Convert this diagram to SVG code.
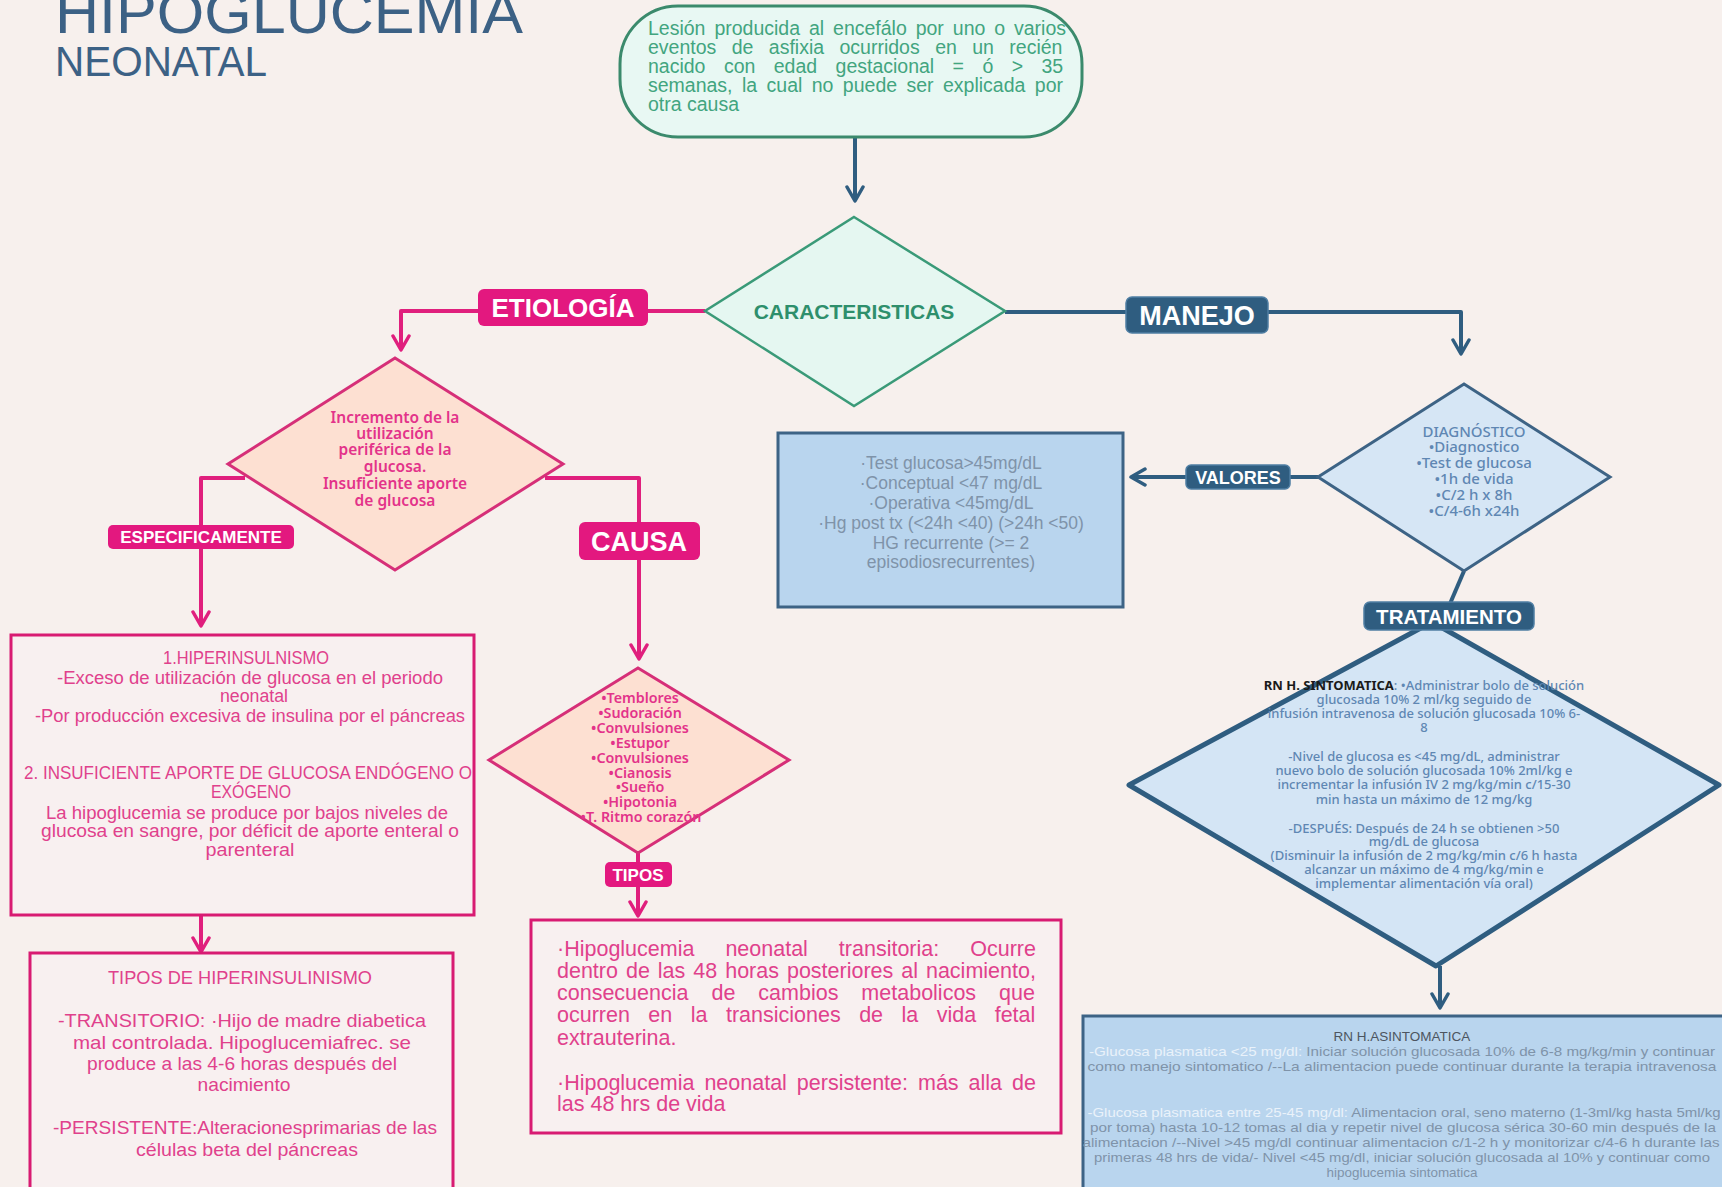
<svg xmlns="http://www.w3.org/2000/svg" width="1722" height="1187" viewBox="0 0 1722 1187">
  <defs>
    <style>
      .title { font-family: "Liberation Sans", Arial, sans-serif; fill: #3c6185; }
      .lbl { font-family: "Liberation Sans", Arial, sans-serif; font-weight: bold; fill: #ffffff; text-anchor: middle; }
      .lblP { fill: #e3187f; }
      .lblB { fill: #2f5d80; stroke: #4f7ea3; stroke-width: 1.5; }
      .lnP { fill: none; stroke: #e01f7d; stroke-width: 4; stroke-linejoin: round; }
      .lnB { fill: none; stroke: #2f5d80; stroke-width: 4; stroke-linejoin: round; }
      .boxP { fill: #f8f0f0; stroke: #d81b72; stroke-width: 3; }
      .txtP { font-family: "Liberation Sans", Arial, sans-serif; fill: #e0418c; }
      .dmP { fill: #fde0d2; stroke: #d62f78; stroke-width: 3; }
      .dmtxtP { font-family: "Noto Sans", "Open Sans", sans-serif; font-weight: 600; fill: #e3338a; text-anchor: middle; }
      .dmB { fill: #d6e6f5; stroke: #3d6385; stroke-width: 3; }
      .dmtxtB { font-family: "Noto Sans", "Open Sans", sans-serif; font-weight: 500; fill: #5f87b3; text-anchor: middle; }
      .boxB { fill: #b9d5ee; stroke: #3d6385; stroke-width: 3; }
      .txtB { font-family: "Liberation Sans", Arial, sans-serif; fill: #7f93a9; text-anchor: middle; }
      .mid { text-anchor: middle; }
    </style>
    <marker id="chevB" viewBox="0 0 20 20" refX="17" refY="10" markerWidth="20" markerHeight="20" markerUnits="userSpaceOnUse" orient="auto">
      <path d="M3,2 L17,10 L3,18" fill="none" stroke="#2f5d80" stroke-width="3.5" stroke-linecap="round" stroke-linejoin="round"/>
    </marker>
    <marker id="chevP" viewBox="0 0 20 20" refX="17" refY="10" markerWidth="20" markerHeight="20" markerUnits="userSpaceOnUse" orient="auto">
      <path d="M3,2 L17,10 L3,18" fill="none" stroke="#e01f7d" stroke-width="3.5" stroke-linecap="round" stroke-linejoin="round"/>
    </marker>
  </defs>

  <!-- page background -->
  <rect x="0" y="0" width="1722" height="1187" fill="#f7f0ed"/>

  <!-- heading -->
  <g id="heading">
    <text class="title" x="55" y="33" font-size="60" textLength="468" lengthAdjust="spacingAndGlyphs">HIPOGLUCEMIA</text>
    <text class="title" x="55" y="76" font-size="42" textLength="212" lengthAdjust="spacingAndGlyphs">NEONATAL</text>
  </g>

  <!-- connectors -->
  <g id="connectors">
    <path class="lnB" d="M855,137 V201" marker-end="url(#chevB)"/>
    <path class="lnP" d="M705,311 H401 V350" marker-end="url(#chevP)"/>
    <path class="lnB" d="M1005,312 H1461 V354" marker-end="url(#chevB)"/>
    <path class="lnP" d="M245,478 H201 V626" marker-end="url(#chevP)"/>
    <path class="lnP" d="M545,478 H639 V659" marker-end="url(#chevP)"/>
    <path class="lnP" d="M201,915 V952" marker-end="url(#chevP)"/>
    <path class="lnP" d="M638,853 V916" marker-end="url(#chevP)"/>
    <path class="lnB" d="M1318,477 H1131" marker-end="url(#chevB)"/>
    <path class="lnB" d="M1464,571 L1449,606"/>
    <path class="lnB" d="M1440,966 V1008" marker-end="url(#chevB)"/>
  </g>

  <!-- definition (justified lines: word gaps widened per line) -->
  <g id="definicion">
    <rect x="620" y="6" width="462" height="131" rx="58" fill="#e8f8f3" stroke="#3b8a6c" stroke-width="3"/>
    <g font-family="Liberation Sans, Arial, sans-serif" font-size="19.5" fill="#42a57f">
      <text x="648" y="35" word-spacing="3.5">Lesión producida al encefálo por uno o varios</text>
      <text x="648" y="54" word-spacing="10">eventos de asfixia ocurridos en un recién</text>
      <text x="648" y="73" word-spacing="13">nacido con edad gestacional = ó &gt; 35</text>
      <text x="648" y="92" word-spacing="4">semanas, la cual no puede ser explicada por</text>
      <text x="648" y="111">otra causa</text>
    </g>
  </g>

  <!-- characteristics -->
  <g id="caracteristicas">
    <polygon points="854,217 1005,311 854,406 705,311" fill="#e5f7f1" stroke="#3a9a78" stroke-width="2.5"/>
    <text x="854" y="319" font-family="Liberation Sans, Arial, sans-serif" font-weight="bold" font-size="21" fill="#2e8f6c" text-anchor="middle">CARACTERISTICAS</text>
  </g>

  <!-- branch labels -->
  <g id="lbl-etiologia">
    <rect class="lblP" x="478" y="289" width="170" height="37" rx="6"/>
    <text class="lbl" x="563" y="317" font-size="26">ETIOLOGÍA</text>
  </g>
  <g id="lbl-manejo">
    <rect class="lblB" x="1126" y="297" width="142" height="36" rx="6"/>
    <text class="lbl" x="1197" y="325" font-size="27">MANEJO</text>
  </g>
  <g id="lbl-especificamente">
    <rect class="lblP" x="108" y="525" width="186" height="24" rx="5"/>
    <text class="lbl" x="201" y="543" font-size="17">ESPECIFICAMENTE</text>
  </g>
  <g id="lbl-causa">
    <rect class="lblP" x="579" y="522" width="121" height="38" rx="6"/>
    <text class="lbl" x="639" y="551" font-size="27">CAUSA</text>
  </g>
  <g id="lbl-tipos">
    <rect class="lblP" x="605" y="862" width="67" height="25" rx="5"/>
    <text class="lbl" x="638" y="881" font-size="17">TIPOS</text>
  </g>
  <g id="lbl-valores">
    <rect class="lblB" x="1186" y="465" width="104" height="24" rx="5"/>
    <text class="lbl" x="1238" y="484" font-size="18">VALORES</text>
  </g>

  <!-- etiology -->
  <g id="incremento">
    <polygon class="dmP" points="395,358 563,464 395,570 228,464"/>
    <g class="dmtxtP" font-size="15.5" font-weight="700">
      <text x="395" y="423">Incremento de la</text>
      <text x="395" y="439">utilización</text>
      <text x="395" y="455">periférica de  la</text>
      <text x="395" y="472">glucosa.</text>
      <text x="395" y="489">Insuficiente aporte</text>
      <text x="395" y="506">de glucosa</text>
    </g>
  </g>

  <g id="hiperinsulinismo">
    <rect class="boxP" x="11" y="635" width="463" height="280"/>
    <g class="txtP mid" font-size="17.5">
      <text x="246" y="664" textLength="166" lengthAdjust="spacingAndGlyphs">1.HIPERINSULNISMO</text>
      <text x="250" y="684" textLength="386" lengthAdjust="spacingAndGlyphs">-Exceso de utilización de glucosa en el periodo</text>
      <text x="254" y="702" textLength="68" lengthAdjust="spacingAndGlyphs">neonatal</text>
      <text x="250" y="722" textLength="430" lengthAdjust="spacingAndGlyphs">-Por producción excesiva de insulina por el páncreas</text>
      <text x="248" y="779" textLength="448" lengthAdjust="spacingAndGlyphs">2. INSUFICIENTE APORTE DE GLUCOSA ENDÓGENO O</text>
      <text x="251" y="798" textLength="80" lengthAdjust="spacingAndGlyphs">EXÓGENO</text>
      <text x="247" y="819" textLength="402" lengthAdjust="spacingAndGlyphs">La hipoglucemia se produce por bajos niveles de</text>
      <text x="250" y="837" textLength="418" lengthAdjust="spacingAndGlyphs">glucosa en sangre, por déficit de aporte enteral o</text>
      <text x="250" y="856" textLength="89" lengthAdjust="spacingAndGlyphs">parenteral</text>
    </g>
  </g>

  <g id="tipos-hiperinsulinismo">
    <rect class="boxP" x="30" y="953" width="423" height="245"/>
    <g class="txtP mid" font-size="19">
      <text x="240" y="984" textLength="264" lengthAdjust="spacingAndGlyphs">TIPOS DE HIPERINSULINISMO</text>
      <text x="242" y="1027" textLength="368" lengthAdjust="spacingAndGlyphs">-TRANSITORIO: ·Hijo de madre diabetica</text>
      <text x="242" y="1049" textLength="338" lengthAdjust="spacingAndGlyphs">mal controlada. Hipoglucemiafrec. se</text>
      <text x="242" y="1070" textLength="310" lengthAdjust="spacingAndGlyphs">produce a las 4-6 horas después del</text>
      <text x="244" y="1091" textLength="93" lengthAdjust="spacingAndGlyphs">nacimiento</text>
      <text x="245" y="1134" textLength="384" lengthAdjust="spacingAndGlyphs">-PERSISTENTE:Alteracionesprimarias de las</text>
      <text x="247" y="1156" textLength="222" lengthAdjust="spacingAndGlyphs">células beta del páncreas</text>
    </g>
  </g>

  <g id="sintomas">
    <polygon class="dmP" points="638,668 789,760 638,853 489,760"/>
    <g class="dmtxtP" font-size="14.3">
      <text x="640" y="703">•Temblores</text>
      <text x="640" y="718">•Sudoración</text>
      <text x="640" y="733">•Convulsiones</text>
      <text x="640" y="748">•Estupor</text>
      <text x="640" y="763">•Convulsiones</text>
      <text x="640" y="778">•Cianosis</text>
      <text x="640" y="792">•Sueño</text>
      <text x="640" y="807">•Hipotonia</text>
      <text x="641" y="822">•T. Ritmo corazón</text>
    </g>
  </g>

  <!-- justified paragraph: word gaps widened per line -->
  <g id="tipos-hipoglucemia">
    <rect class="boxP" x="531" y="920" width="530" height="213"/>
    <g class="txtP" font-size="21.5">
      <text x="557" y="956" word-spacing="25">·Hipoglucemia neonatal transitoria: Ocurre</text>
      <text x="557" y="978" word-spacing="2">dentro de las 48 horas posteriores al nacimiento,</text>
      <text x="557" y="1000" word-spacing="17">consecuencia de cambios metabolicos que</text>
      <text x="557" y="1022" word-spacing="12.5">ocurren en la transiciones de la vida fetal</text>
      <text x="557" y="1045">extrauterina.</text>
      <text x="557" y="1090" word-spacing="4">·Hipoglucemia neonatal persistente: más alla de</text>
      <text x="557" y="1111">las 48 hrs de vida</text>
    </g>
  </g>

  <!-- management -->
  <g id="diagnostico">
    <polygon class="dmB" points="1464,384 1610,477 1464,571 1318,477"/>
    <g class="dmtxtB" font-size="15">
      <text x="1474" y="437">DIAGNÓSTICO</text>
      <text x="1474" y="452">•Diagnostico</text>
      <text x="1474" y="468">•Test de glucosa</text>
      <text x="1474" y="484">•1h de vida</text>
      <text x="1474" y="500">•C/2 h x 8h</text>
      <text x="1474" y="516">•C/4-6h x24h</text>
    </g>
  </g>

  <g id="valores">
    <rect class="boxB" x="778" y="433" width="345" height="174"/>
    <g class="txtB" font-size="17.5">
      <text x="951" y="469">·Test glucosa&gt;45mg/dL</text>
      <text x="951" y="489">·Conceptual &lt;47 mg/dL</text>
      <text x="951" y="509">·Operativa &lt;45mg/dL</text>
      <text x="951" y="529">·Hg post tx (&lt;24h &lt;40) (&gt;24h &lt;50)</text>
      <text x="951" y="549">HG recurrente (&gt;= 2</text>
      <text x="951" y="568">episodiosrecurrentes)</text>
    </g>
  </g>

  <g id="tratamiento">
    <polygon points="1432,622 1719,785 1436,966 1129,785" fill="#d4e5f5" stroke="#2f5d80" stroke-width="5" stroke-linejoin="round"/>
    <g class="dmtxtB" font-size="13">
      <text x="1424" y="690"><tspan fill="#1a1a1a" font-weight="700">RN H. SINTOMATICA</tspan>: •Administrar bolo de solución</text>
      <text x="1424" y="704">glucosada 10% 2 ml/kg seguido de</text>
      <text x="1424" y="718">infusión intravenosa de solución glucosada 10% 6-</text>
      <text x="1424" y="732">8</text>
      <text x="1424" y="761">-Nivel de glucosa es &lt;45 mg/dL, administrar</text>
      <text x="1424" y="775">nuevo bolo de solución glucosada 10% 2ml/kg e</text>
      <text x="1424" y="789">incrementar la infusión IV 2 mg/kg/min c/15-30</text>
      <text x="1424" y="804">min hasta un máximo de 12 mg/kg</text>
      <text x="1424" y="833">-DESPUÉS: Después de 24 h se obtienen &gt;50</text>
      <text x="1424" y="846">mg/dL de glucosa</text>
      <text x="1424" y="860">(Disminuir la infusión de 2 mg/kg/min c/6 h hasta</text>
      <text x="1424" y="874">alcanzar un máximo de 4 mg/kg/min e</text>
      <text x="1424" y="888">implementar alimentación vía oral)</text>
    </g>
  </g>
  <g id="lbl-tratamiento">
    <rect class="lblB" x="1364" y="602" width="170" height="28" rx="6"/>
    <text class="lbl" x="1449" y="624" font-size="20.5">TRATAMIENTO</text>
  </g>

  <g id="asintomatica">
    <rect class="boxB" x="1083" y="1016" width="645" height="180"/>
    <g class="txtB" font-size="13">
      <text x="1402" y="1041" fill="#4d5560" font-size="13.5">RN H.ASINTOMATICA</text>
      <text x="1402" y="1056" textLength="626" lengthAdjust="spacingAndGlyphs"><tspan fill="#eaf2fa">-Glucosa plasmatica &lt;25 mg/dl:</tspan> Iniciar solución glucosada 10% de 6-8 mg/kg/min y continuar</text>
      <text x="1402" y="1071" textLength="629" lengthAdjust="spacingAndGlyphs">como manejo sintomatico  /--La alimentacion puede continuar durante la terapia intravenosa</text>
      <text x="1404" y="1117" textLength="633" lengthAdjust="spacingAndGlyphs"><tspan fill="#eaf2fa">-Glucosa plasmatica entre 25-45 mg/dl:</tspan> Alimentacion oral, seno materno (1-3ml/kg hasta 5ml/kg</text>
      <text x="1403" y="1132" textLength="626" lengthAdjust="spacingAndGlyphs">por toma) hasta 10-12 tomas al dia y repetir nivel de glucosa sérica 30-60 min después de la</text>
      <text x="1401" y="1147" textLength="637" lengthAdjust="spacingAndGlyphs">alimentacion /--Nivel &gt;45 mg/dl continuar alimentacion c/1-2 h y monitorizar c/4-6 h durante las</text>
      <text x="1402" y="1162" textLength="616" lengthAdjust="spacingAndGlyphs">primeras 48 hrs de vida/- Nivel &lt;45 mg/dl, iniciar solución glucosada al 10% y continuar como</text>
      <text x="1402" y="1177" textLength="151" lengthAdjust="spacingAndGlyphs">hipoglucemia sintomatica</text>
    </g>
  </g>
</svg>
